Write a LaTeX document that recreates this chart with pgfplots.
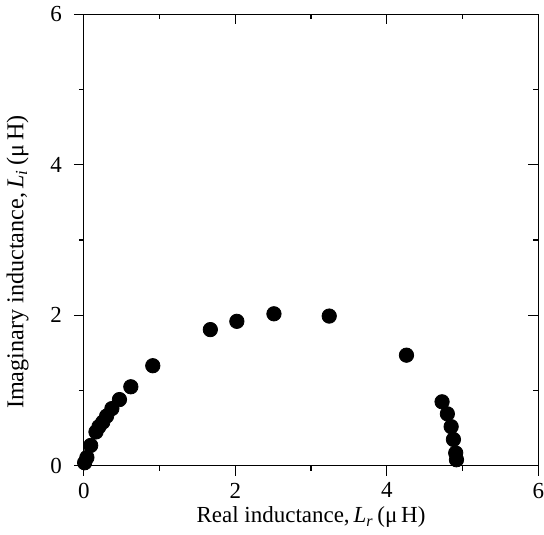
\documentclass[border=0pt]{standalone}
\usepackage{pgfplots}
\pgfplotsset{compat=1.18}
\usepackage{fontspec}
\setmainfont{Liberation Serif}
\begin{document}
\begin{tikzpicture}
\pgfplotsset{
  common/.style={
    scale only axis, width=227.5pt, height=226pt,
    xmin=0, xmax=6, ymin=0, ymax=6,
    xtick={0,2,4,6}, ytick={0,2,4,6},
    minor x tick num=1, minor y tick num=1,
    major tick length=5pt, minor tick length=2.5pt,
    every tick/.style={black, line width=0.6pt},
    axis line style={line width=0.6pt},
    /pgf/number format/assume math mode=true,
    tick label style={font=\fontsize{11.5}{13}\selectfont},
  }
}
\begin{axis}[common,
  xtick pos=left, ytick pos=left, tick align=outside,
  yticklabel style={xshift=-2.5pt},
  xticklabel style={inner xsep=0pt},
  xlabel={Real inductance,\,\textit{L}\textsubscript{\textit{r}}\,(μ\,H)},
  ylabel={Imaginary inductance,\,\textit{L}\textsubscript{\textit{i}}\,(μ\,H)},
  xlabel style={font=\fontsize{11.5}{13}\selectfont, yshift=2.5pt},
  ylabel style={font=\fontsize{12.1}{13}\selectfont, yshift=4pt, xshift=-11pt},
]
\addplot[only marks, mark=*, mark size=3.6pt, black] coordinates {
(0.01,0.04) (0.04,0.11) (0.09,0.27) (0.16,0.45) (0.20,0.52) (0.25,0.58)
(0.30,0.66) (0.37,0.76) (0.47,0.88) (0.62,1.05) (0.91,1.33)
(1.67,1.81) (2.02,1.92) (2.51,2.02) (3.24,1.99) (4.26,1.47)
(4.73,0.85) (4.80,0.69) (4.85,0.52) (4.88,0.35) (4.91,0.17) (4.92,0.08)
};
\end{axis}
\begin{axis}[common, overlay,
  xtick pos=right, ytick pos=right, tick align=inside,
  xticklabels={}, yticklabels={},
]
\end{axis}
\end{tikzpicture}
\end{document}
